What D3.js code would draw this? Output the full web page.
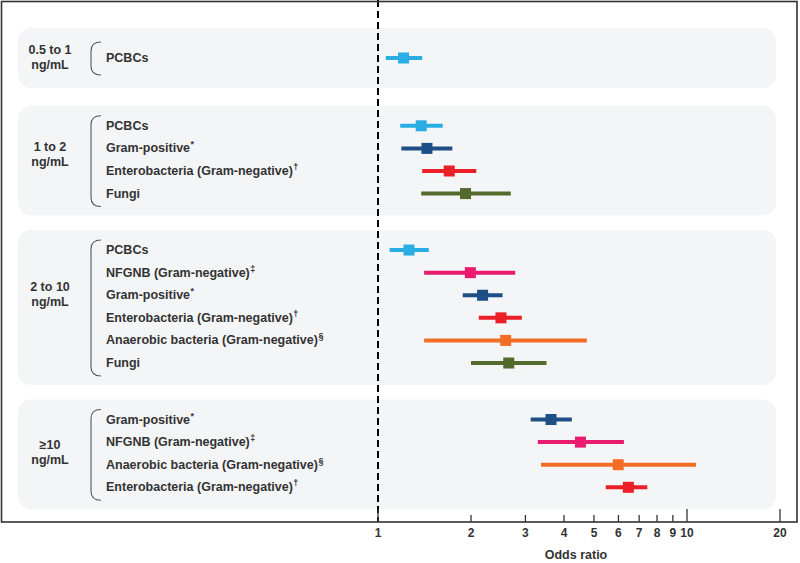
<!DOCTYPE html>
<html>
<head>
<meta charset="utf-8">
<script src="https://cdn.jsdelivr.net/npm/d3@7"></script>
<style>
  html, body { margin: 0; padding: 0; background: #ffffff; }
  svg { display: block; font-family: "Liberation Sans", Arial, sans-serif; }
</style>
</head>
<body>
<svg id="chart" width="800" height="563"></svg>
<script>
// ---------------- DATA ----------------
const groupNames = ["0.5 to 1", "1 to 2", "2 to 10", "\u226510"];
const groupUnit = "ng/mL";

const categories = ["PCBCs", "Gram-positive", "Enterobacteria (Gram-negative)", "Fungi",
                    "NFGNB (Gram-negative)", "Anaerobic bacteria (Gram-negative)"];
const footnoteMarks = ["", "*", "\u2020", "", "\u2021", "\u00a7"];
const categoryColors = ["#2aade3", "#1d4e86", "#ec1f27", "#536a2c", "#e91b6f", "#f26d26"];

// rows: group index, category index
const rowGroup    = [0, 1, 1, 1, 1, 2, 2, 2, 2, 2, 2, 3, 3, 3, 3];
const rowCategory = [0, 0, 1, 2, 3, 0, 4, 1, 2, 5, 3, 1, 4, 5, 2];
const rowOR       = [1.21, 1.38, 1.44, 1.70, 1.92, 1.26, 1.99, 2.18, 2.50, 2.59, 2.65, 3.63, 4.52, 5.99, 6.46];
const rowLow      = [1.06, 1.18, 1.19, 1.39, 1.38, 1.09, 1.41, 1.88, 2.12, 1.41, 2.00, 3.12, 3.29, 3.37, 5.46];
const rowHigh     = [1.39, 1.62, 1.74, 2.08, 2.69, 1.46, 2.78, 2.53, 2.92, 4.74, 3.51, 4.24, 6.25, 10.7, 7.44];

const tickValues = [1, 2, 3, 4, 5, 6, 7, 8, 9, 10, 20];
const majorTicks = [1, 10, 20];
const axisTitle = "Odds ratio";

// ---------------- LAYOUT ----------------
const svg = d3.select("#chart");
const axisY = 522;
const textColor = "#333333";

const x = d3.scaleLog().domain([1, 20]).range([378, 780]);

// slot positions (rows stacked with gaps between groups)
const groupSizes = groupNames.map((g, i) => rowGroup.filter(r => r === i).length);
const groupStart = [];
let s = 0;
groupSizes.forEach((n, i) => {
  if (i > 0) s += groupSizes[i - 1] + (groupSizes[i - 1] === 1 ? 2 : 1.5);
  groupStart.push(s);
});
const rowSlot = [];
const counter = groupNames.map(() => 0);
rowGroup.forEach(g => { rowSlot.push(groupStart[g] + counter[g]); counter[g]++; });
const maxSlot = d3.max(rowSlot);
const y = d3.scaleLinear().domain([0, maxSlot]).range([58, 487.3]);

const rows = rowGroup.map((g, i) => ({
  g, cat: rowCategory[i], or: rowOR[i], lo: rowLow[i], hi: rowHigh[i], y: y(rowSlot[i])
}));

// panels
const panelData = groupNames.map((name, gi) => {
  const ys = rows.filter(r => r.g === gi).map(r => r.y);
  const top = d3.min(ys), bot = d3.max(ys);
  const single = ys.length === 1;
  return { name, gi, top: top - (single ? 30 : 20), bot: bot + (single ? 30 : 22), y0: top, y1: bot, n: ys.length };
});

svg.append("g").selectAll("rect").data(panelData).join("rect")
  .attr("x", 18).attr("y", d => d.top)
  .attr("width", 776 - 18).attr("height", d => d.bot - d.top)
  .attr("rx", 13).attr("ry", 13)
  .attr("fill", "#f4f5f7");

// group labels
const labelAnchor = [0, 1.3, 2, 1.5];
const gl = svg.append("g");
panelData.forEach(p => {
  const cy = y(groupStart[p.gi] + labelAnchor[p.gi]) - 1;
  gl.append("text").attr("x", 50).attr("y", cy - 7.5)
    .attr("text-anchor", "middle").attr("dominant-baseline", "central")
    .attr("font-size", 12.5).attr("font-weight", "bold").attr("fill", textColor)
    .text(p.name);
  gl.append("text").attr("x", 50).attr("y", cy + 7.5)
    .attr("text-anchor", "middle").attr("dominant-baseline", "central")
    .attr("font-size", 12.5).attr("font-weight", "bold").attr("fill", textColor)
    .text(groupUnit);
});

// brackets
svg.append("g").selectAll("path").data(panelData).join("path")
  .attr("d", d => {
    const t = d.n === 1 ? d.y0 - 16 : d.y0 - 10;
    const b = d.n === 1 ? d.y1 + 17 : d.y1 + 13;
    const xl = 91, xr = 101, r = 9;
    return `M${xr},${t} Q${xl},${t} ${xl},${t + r} L${xl},${b - r} Q${xl},${b} ${xr},${b}`;
  })
  .attr("fill", "none").attr("stroke", "#555").attr("stroke-width", 1.1);

// row labels
const rl = svg.append("g").selectAll("text").data(rows).join("text")
  .attr("x", 106).attr("y", d => d.y)
  .attr("dominant-baseline", "central")
  .attr("font-size", 12.5).attr("font-weight", "bold").attr("fill", textColor);
rl.append("tspan").text(d => categories[d.cat]);
rl.filter(d => footnoteMarks[d.cat] !== "").append("tspan")
  .attr("font-size", 9).attr("dy", -4).attr("dx", 0.5)
  .text(d => footnoteMarks[d.cat]);

// reference dashed line at OR = 1
svg.append("line")
  .attr("x1", x(1)).attr("x2", x(1)).attr("y1", 0).attr("y2", axisY)
  .attr("stroke", "#000").attr("stroke-width", 2).attr("stroke-dasharray", "7,4");

// CI lines and squares
const marks = svg.append("g");
marks.selectAll("line").data(rows).join("line")
  .attr("x1", d => x(d.lo)).attr("x2", d => x(d.hi))
  .attr("y1", d => d.y).attr("y2", d => d.y)
  .attr("stroke", d => categoryColors[d.cat]).attr("stroke-width", 4);
const sq = 11;
marks.selectAll("rect").data(rows).join("rect")
  .attr("x", d => x(d.or) - sq / 2).attr("y", d => d.y - sq / 2)
  .attr("width", sq).attr("height", sq)
  .attr("fill", d => categoryColors[d.cat]);

// frame
svg.append("rect").attr("x", 1.5).attr("y", 1.5).attr("width", 797 - 1.5).attr("height", axisY - 1.5)
  .attr("fill", "none").attr("stroke", "#333").attr("stroke-width", 1.6);

// axis
const axisG = svg.append("g").attr("transform", `translate(0,${axisY})`);
axisG.selectAll("line.tick").data(tickValues).join("line")
  .attr("class", "tick")
  .attr("x1", d => x(d)).attr("x2", d => x(d))
  .attr("y1", d => majorTicks.includes(d) ? -13 : -7).attr("y2", 0)
  .attr("stroke", "#333").attr("stroke-width", 1.3);
axisG.selectAll("text.tl").data(tickValues).join("text")
  .attr("class", "tl")
  .attr("x", d => x(d)).attr("y", 11)
  .attr("text-anchor", "middle").attr("dominant-baseline", "central")
  .attr("font-size", 12).attr("font-weight", "bold").attr("fill", textColor)
  .text(d => d);

svg.append("text")
  .attr("x", (x.range()[0] + x.range()[1]) / 2 - 3).attr("y", 555)
  .attr("text-anchor", "middle").attr("dominant-baseline", "central")
  .attr("font-size", 12.5).attr("font-weight", "bold").attr("fill", textColor)
  .text(axisTitle);
</script>
</body>
</html>
